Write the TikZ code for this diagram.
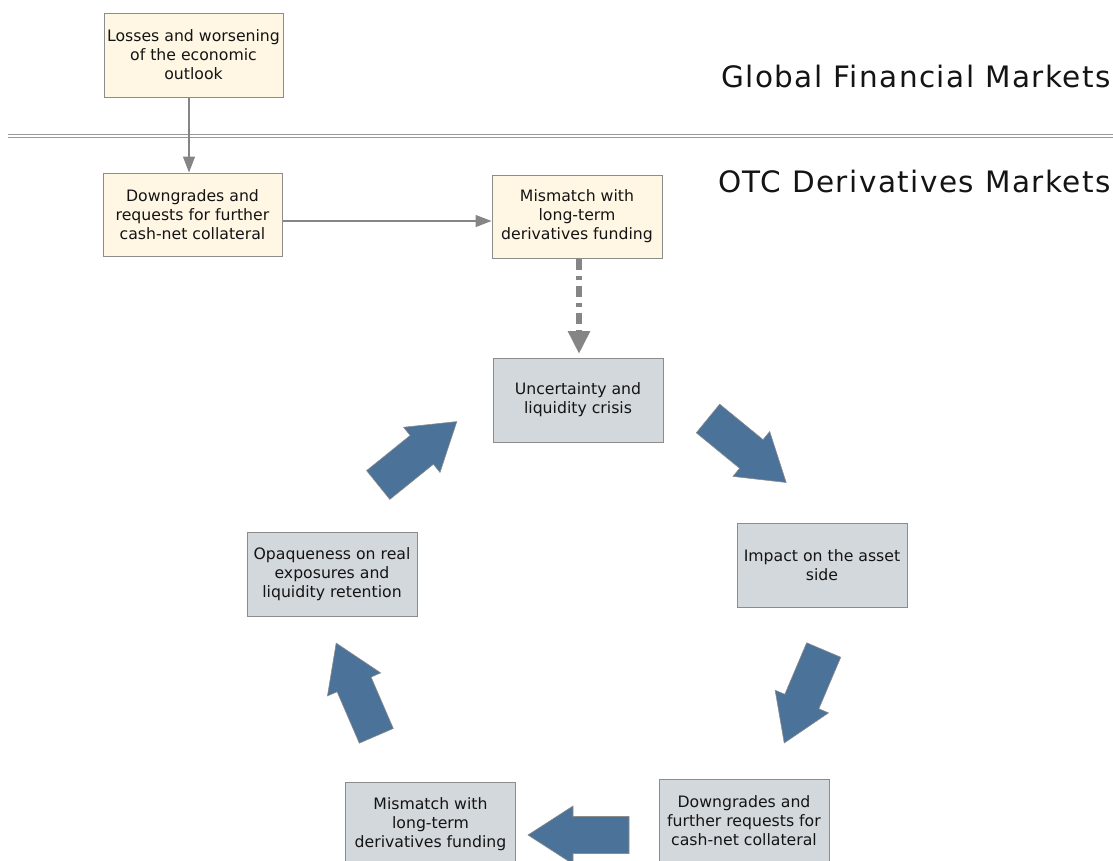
\documentclass[tikz,border=0pt]{standalone}
\usepackage{fontspec}
\setmainfont{DejaVu Sans}
\newfontfamily\headingfont[LetterSpace=5]{DejaVu Sans}
\usetikzlibrary{arrows.meta}
\definecolor{creamfill}{HTML}{FFF7E4}
\definecolor{greyfill}{HTML}{D3D8DD}
\definecolor{edge}{HTML}{8C8C8C}
\definecolor{flow}{HTML}{4B7298}
\definecolor{linkgrey}{HTML}{858585}
\definecolor{rulegrey}{HTML}{9A9A9A}

% block arrow of the cycle: tail centre, direction angle
\newcommand\cyclearrow[2]{%
  \draw[flowarrow, shift={#1}, rotate=#2]
    (0,-18.5) -- (56,-18.5) -- (56,-29) -- (101,0) -- (56,29) -- (56,18.5) -- (0,18.5) -- cycle;}

\begin{document}
\begin{tikzpicture}[x=1pt,y=-1pt,
  box/.style={draw=edge, line width=1pt, align=center, inner sep=2pt,
    font=\fontsize{15.7}{19}\selectfont, text=black!92},
  outerbox/.style={box, fill=creamfill, minimum width=179pt, minimum height=84pt},
  otcbox/.style={box, fill=creamfill, minimum width=170pt, minimum height=83pt},
  cyclebox/.style={box, fill=greyfill, minimum width=170pt, minimum height=84pt},
  link/.style={draw=linkgrey, line width=1.3pt, -{Triangle[length=16pt,width=12pt]}},
  dashlink/.style={draw=linkgrey, line width=6pt,
    dash pattern=on 11.5pt off 6pt on 4pt off 5.5pt,
    -{Triangle[length=23pt,width=21pt]}},
  flowarrow/.style={fill=flow, draw=edge, line width=0.6pt},
  title/.style={font=\headingfont\fontsize{29.5}{36}\selectfont, text=black!92, inner sep=0pt},
  sectionrule/.style={draw=rulegrey, line width=1.3pt}
]
\useasboundingbox (0,0) rectangle (1113,860);

% market headings and the border between them
\node[title, anchor=base east] (gfm) at (1111,87.5) {Global Financial Markets};
\node[title, anchor=base east] (otcm) at (1111,192.5) {OTC Derivatives Markets};
\draw[sectionrule] (8,134.7) -- (1113,134.7);
\draw[sectionrule] (8,137.2) -- (1113,137.2);

% trigger chain
\node[outerbox] (losses) at (193.5,55) {Losses and worsening\\of the economic\\outlook};
\node[outerbox, minimum height=83pt] (downgr) at (192.5,214.5) {Downgrades and\\requests for further\\cash-net collateral};
\node[otcbox] (mismatch) at (577,216.5) {Mismatch with\\long-term\\derivatives funding};

% cycle
\node[cyclebox] (crisis) at (578,400) {Uncertainty and\\liquidity crisis};
\node[cyclebox] (impact) at (822,565) {Impact on the asset\\side};
\node[cyclebox] (further) at (744,821) {Downgrades and\\further requests for\\cash-net collateral};
\node[cyclebox] (funding) at (430.5,824) {Mismatch with\\long-term\\derivatives funding};
\node[cyclebox] (opaque) at (332,574) {Opaqueness on real\\exposures and\\liquidity retention};

% connectors
\coordinate (lossout) at ([xshift=-4.5pt]losses.south);
\draw[link] (lossout) -- (lossout |- downgr.north);
\coordinate (downout) at ([yshift=-6.5pt]downgr.east);
\draw[link] (downout) -- (downout -| mismatch.west);
\coordinate (misout) at ([xshift=2pt]mismatch.south);
\draw[dashlink, shorten >=3.5pt] (misout) -- (misout |- crisis.north);

% cycle arrows
\cyclearrow{(708,418.5)}{-39.3}
\cyclearrow{(823.7,650)}{-113}
\cyclearrow{(629,835)}{180}
\cyclearrow{(376.3,735.8)}{113.4}
\cyclearrow{(378.2,485)}{38.9}
\end{tikzpicture}
\end{document}
